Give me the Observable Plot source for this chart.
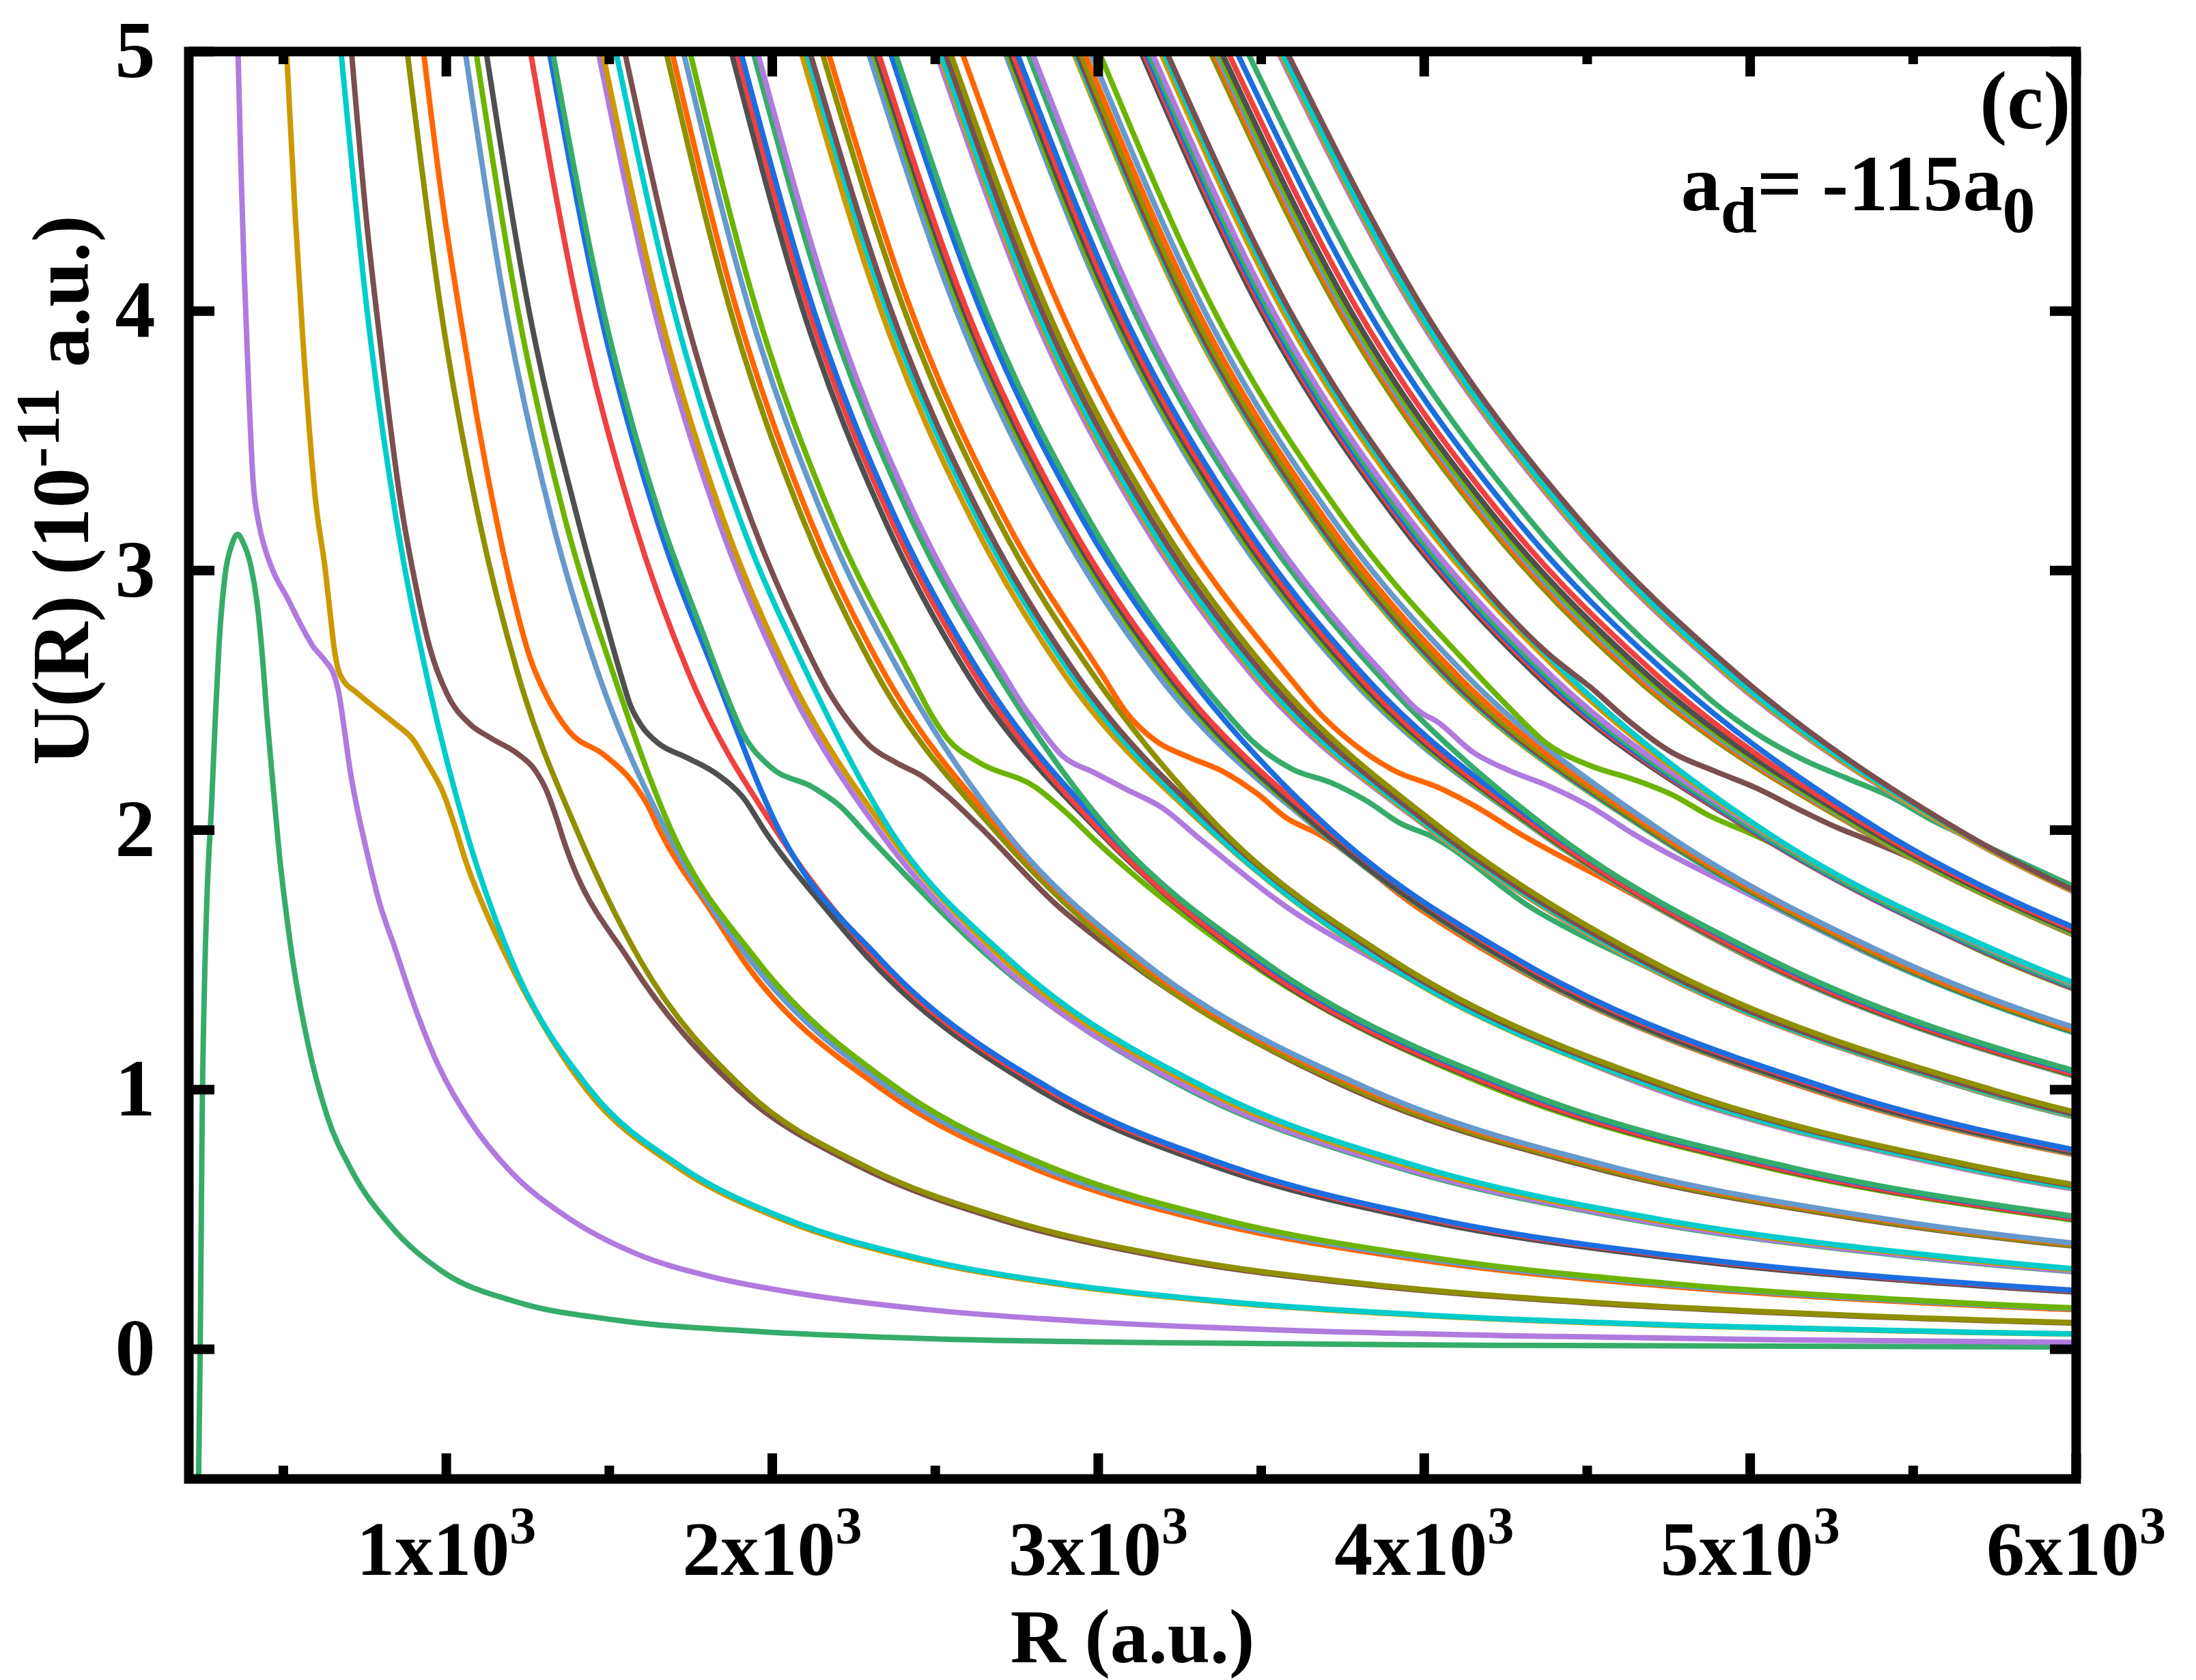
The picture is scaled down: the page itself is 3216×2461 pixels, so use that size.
<!DOCTYPE html>
<html>
<head>
<meta charset="utf-8">
<script src="https://cdn.jsdelivr.net/npm/d3@7"></script>
<script src="https://cdn.jsdelivr.net/npm/@observablehq/plot@0.6"></script>
<style>
html, body { margin: 0; padding: 0; background: #fff; }
svg { display: block; }
</style>
</head>
<body>
<div id="chart"></div>
<script>
// 12-colour cycle used for the adiabatic curves (curve n gets palette[n % 12])
const palette = ["#36ac6a", "#b07ade", "#cc9900", "#00cccc", "#7b4e4f", "#8f8f00",
                 "#ff6600", "#6699cc", "#6cb400", "#4f4f4f", "#f04040", "#1c6ee0"];

// Axis ticks and labels
const xMajor = [1000, 2000, 3000, 4000, 5000, 6000];
const xMinor = [500, 1500, 2500, 3500, 4500, 5500];
const xTickLabels = ["1x10^3", "2x10^3", "3x10^3", "4x10^3", "5x10^3", "6x10^3"];
const yTicks = [0, 1, 2, 3, 4, 5];
const yTickLabels = ["0", "1", "2", "3", "4", "5"];
const xTitle = "R (a.u.)";
const yTitle = "U(R) (10^-11^ a.u.)";
const panelLabel = "(c)";
const scatteringLabel = "a_d_= -115a_0";

// U levels at which the regular curves are read (upper part / lower part)
const upperLevels = [5, 4, 3.2, 2.6];
const lowerLevels = [2.0, 1.5, 1.0, 0.7, 0.5, 0.35, 0.25, 0.18, 0.13, 0.09, 0.065, 0.05];

// Curves with barriers / shoulders, read point by point: [curve index, [[R, U], ...]]
const shoulderCurves = [
  [0, [[240,-0.5],[245,0],[251,0.9],[258,1.4],[266,1.75],[280,2.1],[292,2.45],[303,2.72],[321,2.98],[342,3.1],[360,3.14],[376,3.11],[400,3.02],[420,2.87],[437,2.65],[449,2.45],[470,2.15],[490,1.88],[510,1.67],[531,1.48],[575,1.18],[634,0.9],[709,0.69],[826,0.48],[987,0.3],[1222,0.18],[1515,0.113],[1957,0.068],[2497,0.04],[3200,0.025],[4200,0.015],[6000,0.008]]],
  [1, [[361,5],[370,4.55],[380,4.15],[395,3.66],[407,3.35],[425,3.18],[445,3.08],[475,2.98],[510,2.9],[550,2.8],[590,2.71],[630,2.65],[655,2.6],[670,2.53],[688,2.38],[703,2.245],[727,2.08],[750,1.95],[795,1.72],[841,1.55],[900,1.33],[973,1.1],[1075,0.875],[1193,0.69],[1369,0.51],[1588,0.365],[1810,0.28],[2104,0.21],[2497,0.15],[3000,0.104],[3600,0.072],[4300,0.051],[5100,0.036],[6000,0.026]]],
  [2, [[510,5],[535,4.4],[560,3.89],[598,3.28],[629,3.0],[645,2.82],[656,2.7],[668,2.62],[685,2.575],[720,2.535],[763,2.49],[843,2.41],[897,2.35],[943,2.255],[990,2.145],[1025,2.02],[1057,1.89],[1130,1.66],[1190,1.5],[1430,1.0],[1710,0.7],[2030,0.5],[2430,0.35],[2880,0.25],[3395,0.18],[3995,0.13],[4800,0.09],[5650,0.065],[6440,0.05]]],
  [4, [[709,5],[755,4.35],[800,3.85],[858,3.28],[905,2.95],[950,2.7],[1004,2.52],[1071,2.41],[1136,2.355],[1218,2.295],[1270,2.235],[1310,2.145],[1337,2.05],[1364,1.945],[1560,1.5],[1895,1.0],[2274,0.7],[2698,0.5],[3216,0.35],[3805,0.25],[4485,0.18],[5277,0.13],[6325,0.09]]],
  [6, [[930,5],[985,4.45],[1040,4.0],[1090,3.62],[1145,3.25],[1200,2.93],[1258,2.66],[1310,2.51],[1377,2.38],[1484,2.29],[1565,2.195],[1618,2.095],[1654,2.0],[1819,1.675],[1910,1.5],[2339,1.0],[2796,0.7],[3308,0.5],[3953,0.35],[4678,0.25],[5513,0.18],[6487,0.13]]],
  [9, [[1122,5],[1254,4],[1403,3.2],[1490,2.8],[1535,2.6],[1565,2.48],[1600,2.4],[1650,2.335],[1737,2.28],[1831,2.215],[1911,2.125],[1978,1.995],[2179,1.675],[2300,1.5],[2817,1.0],[3367,0.7],[3985,0.5],[4762,0.35],[5635,0.25],[6641,0.18]]],
  [12, [[1326,5],[1482,4],[1658,3.2],[1790,2.75],[1850,2.55],[1911,2.37],[1993,2.245],[2125,2.165],[2206,2.095],[2296,1.975],[2676,1.5],[3278,1.0],[3918,0.7],[4636,0.5],[5541,0.35],[6556,0.25]]],
  [16, [[1547,5],[1730,4],[1934,3.2],[2090,2.74],[2175,2.53],[2246,2.4],[2300,2.324],[2380,2.26],[2460,2.208],[2539,2.129],[2634,2.016],[2874,1.71],[3085,1.5],[3779,1.0],[4517,0.7],[5344,0.5],[6388,0.35]]],
  [20, [[1747,5],[1953,4],[2184,3.2],[2423,2.6],[2490,2.44],[2539,2.35],[2634,2.261],[2807,2.166],[2900,2.069],[2994,1.956],[3451,1.5],[4226,1.0],[5051,0.7],[5977,0.5],[7143,0.35]]],
  [25, [[1954,5],[2185,4],[2443,3.2],[2710,2.6],[2780,2.46],[2810,2.41],[2887,2.29],[2990,2.22],[3088,2.156],[3195,2.087],[3314,1.964],[3582,1.7],[3849,1.5],[4714,1.0],[5634,0.7],[6666,0.5]]],
  [30, [[2171,5],[2427,4],[2714,3.2],[3011,2.6],[3088,2.45],[3181,2.34],[3280,2.28],[3381,2.227],[3488,2.14],[3582,2.043],[3668,1.99],[3982,1.7],[4236,1.5],[5188,1.0],[6200,0.7]]],
  [36, [[2376,5],[2656,4],[2970,3.2],[3295,2.6],[3394,2.45],[3475,2.34],[3595,2.235],[3716,2.182],[3823,2.113],[3930,2.024],[4016,1.98],[4330,1.7],[4637,1.5],[5680,1.0],[6788,0.7]]],
  [42, [[2581,5],[2886,4],[3226,3.2],[3579,2.6],[3687,2.44],[3796,2.32],[3915,2.225],[4040,2.166],[4156,2.092],[4288,1.99],[4600,1.78],[5012,1.5],[6138,1.0]]],
  [49, [[2796,5],[3126,4],[3495,3.2],[3877,2.6],[3994,2.45],[4037,2.42],[4150,2.3],[4260,2.23],[4380,2.171],[4510,2.09],[4642,1.985],[5000,1.75],[5404,1.5],[6619,1.0]]],
  [56, [[3002,5],[3356,4],[3753,3.2],[4163,2.6],[4262,2.47],[4380,2.33],[4510,2.248],[4642,2.195],[4759,2.137],[4877,2.054],[4996,1.99],[5769,1.5],[7066,1.0]]],
  [64, [[3209,5],[3588,4],[4011,3.2],[4380,2.68],[4520,2.54],[4628,2.42],[4759,2.3],[4890,2.228],[5021,2.161],[5152,2.078],[5270,2.008],[5336,1.975],[6162,1.5]]],
  [72, [[3457,5],[3865,4],[4321,3.2],[4600,2.82],[4700,2.7],[4800,2.59],[4890,2.49],[5034,2.36],[5165,2.27],[5296,2.2],[5427,2.131],[5571,2.03],[5621,2.0],[6490,1.5]]]
];

// Regular curves: [curve index, R at upperLevels, R at lowerLevels]
const regularCurves = [
  [3,  [677,757,846,939],     [1060,1200,1441,1724,2046,2450,2903,3422,4027,4838,5695,6490]],
  [5,  [880,984,1100,1220],   [1400,1594,1915,2292,2720,3242,3835,4521,5320,6376]],
  [7,  [1058,1183,1323,1467], [1673,1932,2366,2828,3346,3999,4731,5576,6561]],
  [8,  [1091,1220,1364,1513], [1690,1952,2390,2857,3380,4040,4781,5634,6630]],
  [10, [1258,1406,1573,1745], [2011,2322,2844,3400,4022,4808,5689,6704]],
  [11, [1316,1471,1645,1825], [2021,2333,2858,3416,4041,4830,5715,6736]],
  [13, [1466,1639,1833,2033], [2326,2686,3289,3931,4652,5560,6579]],
  [14, [1479,1654,1849,2051], [2348,2711,3321,3969,4696,5613,6641]],
  [15, [1520,1699,1900,2108], [2362,2728,3341,3993,4724,5647,6681]],
  [17, [1674,1872,2093,2321], [2682,3096,3792,4533,5363,6410]],
  [18, [1692,1892,2115,2346], [2701,3118,3819,4565,5401,6456]],
  [19, [1727,1931,2159,2395], [2712,3131,3835,4584,5423,6482]],
  [21, [1874,2095,2343,2599], [2998,3462,4240,5067,5996,7166]],
  [22, [1890,2113,2363,2621], [3004,3469,4249,5078,6008]],
  [23, [1903,2128,2379,2639], [3025,3493,4278,5113,6050]],
  [24, [1941,2170,2426,2692], [3033,3502,4289,5126,6065]],
  [26, [2088,2334,2610,2896], [3342,3860,4727,5650,6685]],
  [27, [2104,2352,2630,2918], [3347,3865,4734,5658,6695]],
  [28, [2115,2365,2644,2933], [3368,3889,4763,5693,6736]],
  [29, [2152,2406,2690,2984], [3379,3902,4779,5711,6758]],
  [31, [2294,2565,2868,3181], [3676,4245,5199,6214]],
  [32, [2309,2581,2886,3202], [3681,4250,5206,6222]],
  [33, [2316,2589,2895,3212], [3684,4254,5210,6227]],
  [34, [2324,2598,2905,3223], [3705,4278,5239,6262]],
  [35, [2361,2640,2951,3274], [3714,4289,5253,6278]],
  [37, [2502,2797,3128,3470], [4021,4643,5687,6797]],
  [38, [2510,2806,3138,3481], [4024,4646,5691,6802]],
  [39, [2515,2812,3144,3488], [4030,4654,5700,6812]],
  [40, [2529,2827,3161,3507], [4040,4665,5713,6828]],
  [41, [2545,2845,3181,3529], [4060,4688,5742,6863]],
  [43, [2713,3033,3391,3762], [4343,5015,6143]],
  [44, [2720,3041,3400,3772], [4348,5021,6149]],
  [45, [2727,3049,3409,3782], [4353,5026,6156]],
  [46, [2736,3059,3420,3794], [4359,5033,6165]],
  [47, [2749,3073,3436,3812], [4378,5055,6192]],
  [48, [2782,3110,3478,3858], [4386,5064,6203]],
  [50, [2923,3268,3654,4054], [4683,5408,6623]],
  [51, [2928,3274,3660,4061], [4685,5410,6626]],
  [52, [2933,3279,3666,4067], [4691,5417,6635]],
  [53, [2943,3290,3679,4081], [4697,5424,6643]],
  [54, [2956,3305,3695,4099], [4709,5437,6659]],
  [55, [2975,3326,3719,4126], [4724,5455,6681]],
  [57, [3130,3499,3913,4341], [5001,5775,7073]],
  [58, [3138,3508,3923,4352], [5004,5778,7077]],
  [59, [3145,3516,3931,4361], [5009,5784,7084]],
  [60, [3152,3524,3940,4371], [5015,5791,7093]],
  [61, [3163,3536,3954,4386], [5030,5808,7113]],
  [62, [3190,3566,3988,4424], [5036,5815,7122]],
  [63, [3200,3578,4000,4438], [5041,5820,7129]],
  [65, [3343,3738,4179,4636], [5341,6167]],
  [66, [3352,3748,4190,4648], [5346,6173]],
  [67, [3360,3756,4200,4660], [5350,6178]],
  [68, [3368,3765,4210,4671], [5355,6184]],
  [69, [3377,3775,4221,4683], [5366,6196]],
  [70, [3397,3798,4246,4711], [5381,6213]],
  [71, [3424,3828,4280,4748], [5399,6235]],
  [73, [3551,3970,4439,4925], [5624,6494]],
  [74, [3556,3976,4445,4931], [5627,6498]],
  [75, [3562,3982,4453,4940], [5637,6509]],
  [76, [3578,4000,4473,4962], [5640,6512]]
];

// Build the long table the line mark needs
const rows = [];
for (const [n, pts] of shoulderCurves) {
  for (const [R, U] of pts) rows.push({n, R, U});
}
for (const [n, up, low] of regularCurves) {
  up.forEach((R, i) => rows.push({n, R, U: upperLevels[i]}));
  low.forEach((R, i) => rows.push({n, R, U: lowerLevels[i]}));
}
rows.sort((a, b) => a.n - b.n || a.R - b.R);
rows.forEach(d => { d.color = palette[d.n % palette.length]; });

const W = 3216, H = 2461;
const mL = 276, mR = 176, mT = 75, mB = 295;
const frameW = W - mL - mR, frameH = H - mT - mB;
const font = "'Liberation Serif', 'Times New Roman', Times, serif";

const chart = Plot.plot({
  width: W,
  height: H,
  marginLeft: mL, marginRight: mR, marginTop: mT, marginBottom: mB,
  style: {background: "white", fontFamily: font, overflow: "visible"},
  x: {domain: [210, 6000], axis: null},
  y: {domain: [-0.5, 5], axis: null},
  color: {type: "identity"},
  marks: [
    Plot.line(rows, {x: "R", y: "U", z: "n", stroke: "color", strokeWidth: 8,
      curve: "monotone-x", clip: true, strokeLinejoin: "round"}),
    // inward ticks
    Plot.ruleX(xMajor, {x: d => d, insetTop: frameH - 37, strokeWidth: 14}),
    Plot.ruleX(xMajor, {x: d => d, insetBottom: frameH - 37, strokeWidth: 14}),
    Plot.ruleX(xMinor, {x: d => d, insetTop: frameH - 19, strokeWidth: 14}),
    Plot.ruleX(xMinor, {x: d => d, insetBottom: frameH - 19, strokeWidth: 14}),
    Plot.ruleY(yTicks, {y: d => d, insetRight: frameW - 38, strokeWidth: 14}),
    Plot.ruleY(yTicks, {y: d => d, insetLeft: frameW - 38, strokeWidth: 14}),
    Plot.frame({stroke: "black", strokeWidth: 14}),
    // tick labels
    Plot.text(yTicks, {y: d => d, frameAnchor: "left", text: (d, i) => yTickLabels[i],
      textAnchor: "end", lineAnchor: "middle", dx: -49, fontSize: 118, fontWeight: "bold"}),
    Plot.text(xMajor, {x: d => d, frameAnchor: "bottom", text: (d, i) => xTickLabels[i],
      lineAnchor: "bottom", dy: 140, fontSize: 112, fontWeight: "bold"}),
    // axis titles and annotations
    Plot.text([xTitle], {frameAnchor: "bottom", text: d => d, lineAnchor: "bottom",
      dy: 268, fontSize: 112, fontWeight: "bold"}),
    Plot.text([yTitle], {frameAnchor: "left", text: d => d, rotate: -90, lineAnchor: "bottom",
      dx: -148, fontSize: 118, fontWeight: "bold"}),
    Plot.text([panelLabel], {frameAnchor: "top-right", text: d => d, textAnchor: "end",
      lineAnchor: "bottom", dx: -8, dy: 112, fontSize: 120, fontWeight: "bold"}),
    Plot.text([scatteringLabel], {frameAnchor: "top-right", text: d => d, textAnchor: "end",
      lineAnchor: "bottom", dx: -60, dy: 232, fontSize: 116, fontWeight: "bold"})
  ]
});

// Turn ^...^ (superscript) and _..._ (subscript) markers into tspans
function applyScripts(node, supShift, subShift, scriptSize) {
  const s = node.textContent;
  while (node.firstChild) node.removeChild(node.firstChild);
  node.style.whiteSpace = "pre";
  let mode = 0, cur = 0, buf = "";
  const flush = () => {
    if (!buf) return;
    const target = mode === 1 ? -supShift : mode === 2 ? subShift : 0;
    const ts = document.createElementNS("http://www.w3.org/2000/svg", "tspan");
    ts.setAttribute("dy", String(target - cur));
    cur = target;
    if (mode) ts.setAttribute("font-size", String(scriptSize));
    ts.textContent = buf;
    node.appendChild(ts);
    buf = "";
  };
  for (const ch of s) {
    if (ch === "^") { flush(); mode = mode === 1 ? 0 : 1; }
    else if (ch === "_") { flush(); mode = mode === 2 ? 0 : 2; }
    else buf += ch;
  }
  flush();
}
chart.querySelectorAll("text").forEach(node => {
  const s = node.textContent;
  if (s.indexOf("^") < 0 && s.indexOf("_") < 0) return;
  if (s.indexOf("U(R)") === 0) applyScripts(node, 43, 0, 92);
  else if (s.indexOf("x10^") >= 0) applyScripts(node, 46, 0, 78);
  else applyScripts(node, 0, 32, 96);
});

document.getElementById("chart").appendChild(chart);
</script>
</body>
</html>
